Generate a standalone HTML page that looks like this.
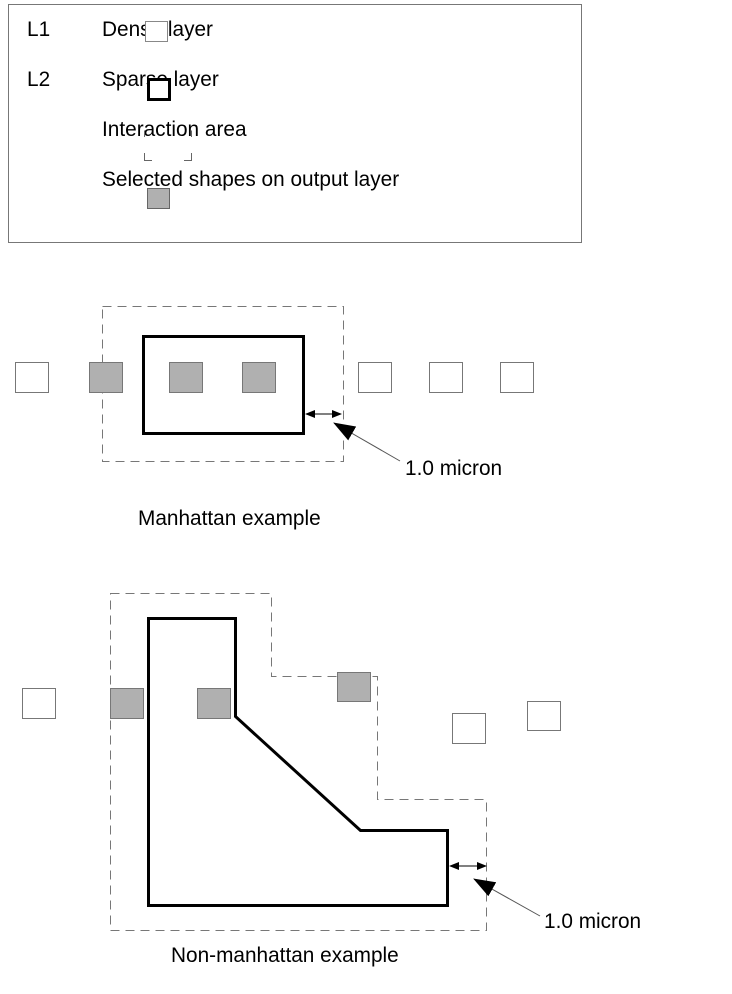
<!DOCTYPE html>
<html><head><meta charset="utf-8"><style>body{margin:0;background:#fff}svg{display:block}text{font-family:"Liberation Sans",sans-serif;font-size:20.8px;fill:#000}</style></head><body>
<svg width="732" height="994" viewBox="0 0 732 994" xmlns="http://www.w3.org/2000/svg">
<defs><marker id="a" markerWidth="10" markerHeight="8" refX="9" refY="4" orient="auto" markerUnits="userSpaceOnUse"><path d="M0,0L10,4L0,8z" fill="#000"/></marker>
<marker id="b" markerWidth="22" markerHeight="16" refX="21" refY="8" orient="auto" markerUnits="userSpaceOnUse"><path d="M0,0L22,8L0,16z" fill="#000"/></marker></defs>
<rect x="8.5" y="4.5" width="573" height="238" fill="none" stroke="#777"/>
<text x="27" y="36">L1</text><text x="102" y="36">Dense layer</text>
<rect x="145.5" y="21.5" width="22" height="20" fill="#fff" stroke="#888"/>
<text x="27" y="86">L2</text><text x="102" y="86">Sparse layer</text>
<rect x="148.5" y="79.5" width="21" height="20" fill="#fff" stroke="#000" stroke-width="3"/>
<text x="102" y="136">Interaction area</text>
<path d="M144.5,130.5V137M191.5,130.5V137M144.5,153V160.5H152M184,160.5H191.5V153" fill="none" stroke="#666"/>
<text x="102" y="186">Selected shapes on output layer</text>
<rect x="147.5" y="188.5" width="22" height="20" fill="#b0b0b0" stroke="#666"/>

<rect x="102.5" y="306.5" width="241" height="155" fill="none" stroke="#777" stroke-dasharray="9,6"/>
<rect x="143.5" y="336.5" width="160" height="97" fill="none" stroke="#000" stroke-width="3"/>
<g stroke="#777" fill="#fff">
<rect x="15.5" y="362.5" width="33" height="30"/><rect x="358.5" y="362.5" width="33" height="30"/><rect x="429.5" y="362.5" width="33" height="30"/><rect x="500.5" y="362.5" width="33" height="30"/>
<rect x="89.5" y="362.5" width="33" height="30" fill="#b0b0b0"/><rect x="169.5" y="362.5" width="33" height="30" fill="#b0b0b0"/><rect x="242.5" y="362.5" width="33" height="30" fill="#b0b0b0"/></g>
<line x1="323" y1="414" x2="306" y2="414" stroke="#000" marker-end="url(#a)"/>
<line x1="323" y1="414" x2="341" y2="414" stroke="#000" marker-end="url(#a)"/>
<line x1="400" y1="461" x2="334" y2="423" stroke="#555" marker-end="url(#b)"/>
<text x="405" y="475">1.0 micron</text>
<text x="138" y="525">Manhattan example</text>

<path d="M110.5,593.5H271.5V676.5H377.5V799.5H486.5V930.5H110.5Z" fill="none" stroke="#777" stroke-dasharray="9,6"/>
<path d="M148.5,618.5H235.5V716.5L360.5,830.5H447.5V905.5H148.5Z" fill="none" stroke="#000" stroke-width="3"/>
<g stroke="#777" fill="#fff">
<rect x="22.5" y="688.5" width="33" height="30"/><rect x="452.5" y="713.5" width="33" height="30"/><rect x="527.5" y="701.5" width="33" height="29"/>
<rect x="110.5" y="688.5" width="33" height="30" fill="#b0b0b0"/><rect x="197.5" y="688.5" width="33" height="30" fill="#b0b0b0"/><rect x="337.5" y="672.5" width="33" height="29" fill="#b0b0b0"/></g>
<line x1="467" y1="866" x2="450" y2="866" stroke="#000" marker-end="url(#a)"/>
<line x1="467" y1="866" x2="486" y2="866" stroke="#000" marker-end="url(#a)"/>
<line x1="540" y1="916" x2="474" y2="879" stroke="#555" marker-end="url(#b)"/>
<text x="544" y="928">1.0 micron</text>
<text x="171" y="962">Non-manhattan example</text>
</svg></body></html>
